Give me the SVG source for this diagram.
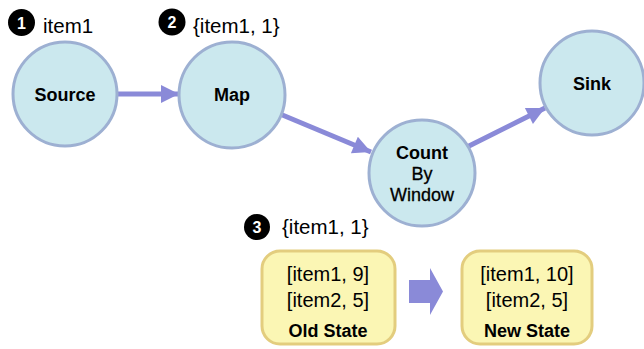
<svg xmlns="http://www.w3.org/2000/svg" width="644" height="349" viewBox="0 0 644 349">
  <style>
    .node circle { fill: #cbe8ee; stroke: #9db0d2; stroke-width: 3; }
    .lbl { font-family: "Liberation Sans", Arial, sans-serif; font-size: 18px; font-weight: bold; fill: #000; text-anchor: middle; }
    .sub { font-family: "Liberation Sans", Arial, sans-serif; font-size: 18px; fill: #000; text-anchor: middle; stroke: #000; stroke-width: 0.3; }
    .note { font-family: "Liberation Sans", Arial, sans-serif; font-size: 20.5px; fill: #000; }
    .badge circle { fill: #000; }
    .badge text { font-family: "Liberation Sans", Arial, sans-serif; font-size: 16px; font-weight: bold; fill: #fff; text-anchor: middle; }
    .edge { stroke: #8a8ad8; stroke-width: 5; fill: none; }
    .state rect { fill: #fbf6b4; stroke: #e3cd7e; stroke-width: 3; }
    .st { font-family: "Liberation Sans", Arial, sans-serif; font-size: 20px; fill: #000; text-anchor: middle; }
    .stb { font-family: "Liberation Sans", Arial, sans-serif; font-size: 18px; font-weight: bold; fill: #000; text-anchor: middle; }
  </style>
  <defs>
    <marker id="arrow" viewBox="0 0 10 10" refX="10" refY="5" markerWidth="4.6" markerHeight="3.6" markerUnits="strokeWidth" orient="auto">
      <path d="M0,0 L10,5 L0,10 z" fill="#8a8ad8"/>
    </marker>
  </defs>

  <g id="connectors">
    <line class="edge" x1="116" y1="94" x2="179" y2="94" marker-end="url(#arrow)"/>
    <line class="edge" x1="280" y1="114" x2="371" y2="152" marker-end="url(#arrow)"/>
    <line class="edge" x1="467" y1="147" x2="545" y2="108" marker-end="url(#arrow)"/>
  </g>

  <g id="source" class="node">
    <circle cx="65" cy="94" r="52"/>
    <text class="lbl" x="65" y="101">Source</text>
  </g>
  <g id="map" class="node">
    <circle cx="232" cy="95" r="53"/>
    <text class="lbl" x="232" y="101">Map</text>
  </g>
  <g id="count" class="node">
    <circle cx="422" cy="173" r="53"/>
    <text class="lbl" x="422" y="159">Count</text>
    <text class="sub" x="422" y="180">By</text>
    <text class="sub" x="422" y="201">Window</text>
  </g>
  <g id="sink" class="node">
    <circle cx="592" cy="83" r="52"/>
    <text class="lbl" x="592" y="90">Sink</text>
  </g>

  <g id="step1">
    <g class="badge"><circle cx="21.5" cy="22.5" r="13.5"/><text x="21.5" y="28.5">1</text></g>
    <text class="note" x="43" y="33">item1</text>
  </g>
  <g id="step2">
    <g class="badge"><circle cx="172" cy="22" r="13.5"/><text x="172" y="28">2</text></g>
    <text class="note" x="193" y="33">{item1, 1}</text>
  </g>
  <g id="step3">
    <g class="badge"><circle cx="257" cy="227" r="13"/><text x="257" y="233">3</text></g>
    <text class="note" x="282" y="234">{item1, 1}</text>
  </g>

  <g id="old-state" class="state">
    <rect x="262" y="251" width="133" height="93" rx="18"/>
    <text class="st" x="328" y="281">[item1, 9]</text>
    <text class="st" x="328" y="307">[item2, 5]</text>
    <text class="stb" x="328" y="337">Old State</text>
  </g>

  <g id="transition">
    <path d="M409,280 L430,280 L430,268 L443,291.5 L430,315 L430,303 L409,303 z" fill="#8a8ad8"/>
  </g>

  <g id="new-state" class="state">
    <rect x="462" y="251" width="130" height="93" rx="18"/>
    <text class="st" x="527" y="281">[item1, 10]</text>
    <text class="st" x="527" y="307">[item2, 5]</text>
    <text class="stb" x="527" y="337">New State</text>
  </g>
</svg>
